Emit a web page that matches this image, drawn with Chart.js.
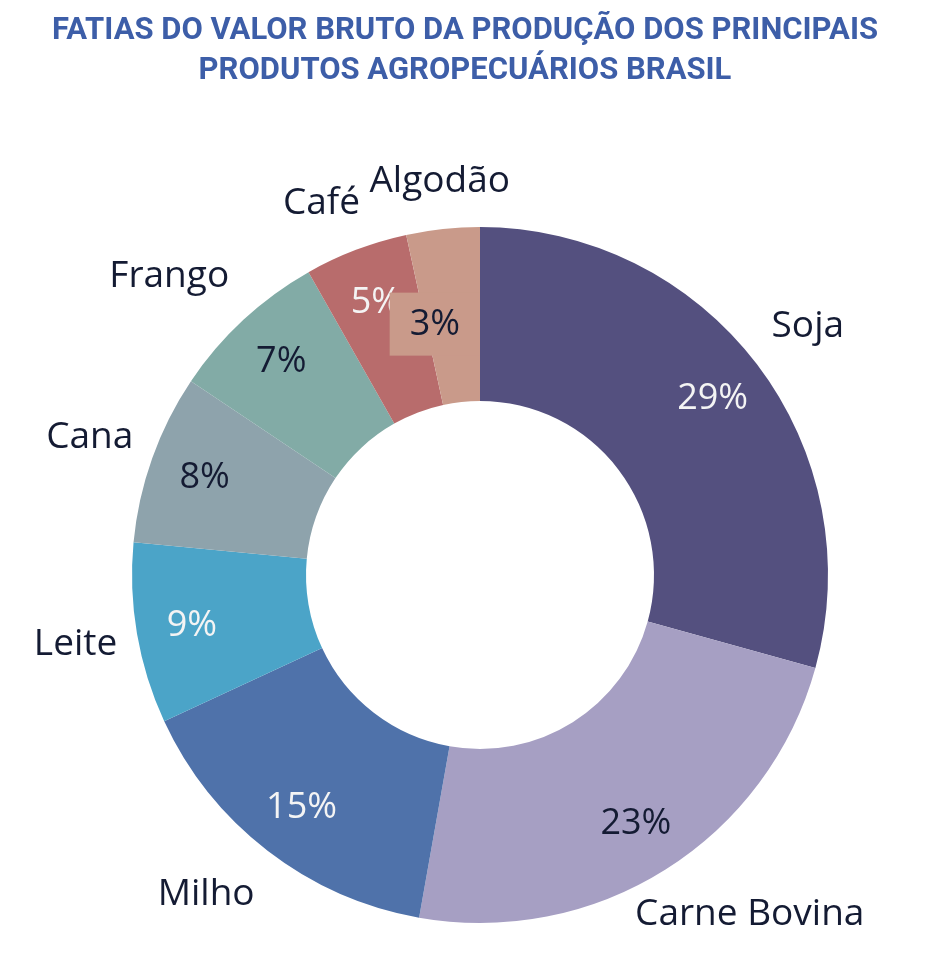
<!DOCTYPE html>
<html lang="pt-BR">
<head>
<meta charset="utf-8">
<title>Fatias do VBP</title>
<script src="https://cdn.jsdelivr.net/npm/chart.js@4.4.1/dist/chart.umd.min.js"></script>
<style>
  html, body { margin: 0; padding: 0; background: #fff; }
  #caixa { width: 951px; height: 968px; position: relative; }
</style>
</head>
<body>
<div id="caixa"><canvas id="chartVBP"></canvas></div>
<script>
// dados
const produtos = ['Soja', 'Carne Bovina', 'Milho', 'Leite', 'Cana', 'Frango', 'Café', 'Algodão'];
const fatias = [29.3, 23.5, 15.3, 8.4, 7.9, 7.4, 4.8, 3.4];
const percentuais = ['29%', '23%', '15%', '9%', '8%', '7%', '5%', '3%'];

const cores = ['#54507f', '#a69fc3', '#4f72aa', '#4ba4c8', '#8ea3ac', '#82aba6', '#b86c6c', '#c99a8a'];
const corEscura = '#141b33';
const corClara = '#f4f4f4';
const corPct = [corClara, corEscura, corClara, corClara, corEscura, corEscura, corClara, corEscura];
const titulo = ['FATIAS DO VALOR BRUTO DA PRODUÇÃO DOS PRINCIPAIS', 'PRODUTOS AGROPECUÁRIOS BRASIL'];

const fonteNome = '37px "Open Sans"';
const fontePct = '36px "Open Sans"';

// título + rótulos externos e internos
const rotulos = {
  id: 'rotulos',
  afterDraw(chart) {
    const ctx = chart.ctx;
    ctx.save();

    ctx.fillStyle = '#3d5ea8';
    ctx.font = 'bold 31px Roboto';
    ctx.textAlign = 'center';
    ctx.textBaseline = 'middle';
    titulo.forEach((l, i) => ctx.fillText(l, 465, 31 + i * 40));

    const meta = chart.getDatasetMeta(0);
    meta.data.forEach((arc, i) => {
      const p = arc.getProps(['x', 'y', 'startAngle', 'endAngle', 'innerRadius', 'outerRadius'], true);
      const meio = (p.startAngle + p.endAngle) / 2;
      const abertura = p.endAngle - p.startAngle;
      const c = Math.cos(meio), s = Math.sin(meio);

      // nome do produto, fora do anel
      ctx.font = fonteNome;
      const ra = p.outerRadius + 18;
      const ax = p.x + c * ra, ay = p.y + s * ra;
      const w = ctx.measureText(produtos[i]).width;
      const fx = Math.max(-1, Math.min(1, c < 0 ? (c + 0.1) * 2.7 : c * 1.2));
      const fy = Math.max(-1, Math.min(1, s * 1.5));
      ctx.fillStyle = corEscura;
      ctx.fillText(produtos[i], ax + fx * (w / 2 + 2), ay + fy * 30);

      // percentual dentro da fatia
      ctx.font = fontePct;
      const fatiaEstreita = abertura < 0.3;
      const rp = p.innerRadius + (p.outerRadius - p.innerRadius) * (fatiaEstreita ? 0.45 : 0.68);
      let px = p.x + c * rp, py = p.y + s * rp;
      const wp = ctx.measureText(percentuais[i]).width;
      if (fatiaEstreita) {
        // caixa com fundo da fatia, sem passar do eixo vertical
        const bw = wp + 40, bh = 63;
        if (px + bw / 2 > p.x) px = p.x - bw / 2;
        ctx.fillStyle = cores[i];
        ctx.fillRect(px - bw / 2, py - bh / 2, bw, bh);
      }
      ctx.fillStyle = corPct[i];
      ctx.fillText(percentuais[i], px, py + 1);
    });
    ctx.restore();
  }
};

new Chart(document.getElementById('chartVBP').getContext('2d'), {
  type: 'doughnut',
  data: {
    labels: produtos,
    datasets: [{
      data: fatias,
      backgroundColor: cores,
      borderWidth: 0
    }]
  },
  options: {
    responsive: true,
    maintainAspectRatio: false,
    animation: false,
    cutout: '50%',
    layout: { padding: { top: 227, bottom: 45, left: 40, right: 31 } },
    plugins: {
      legend: { display: false },
      title: { display: false },
      tooltip: { enabled: false }
    }
  },
  plugins: [rotulos]
});
</script>
</body>
</html>
